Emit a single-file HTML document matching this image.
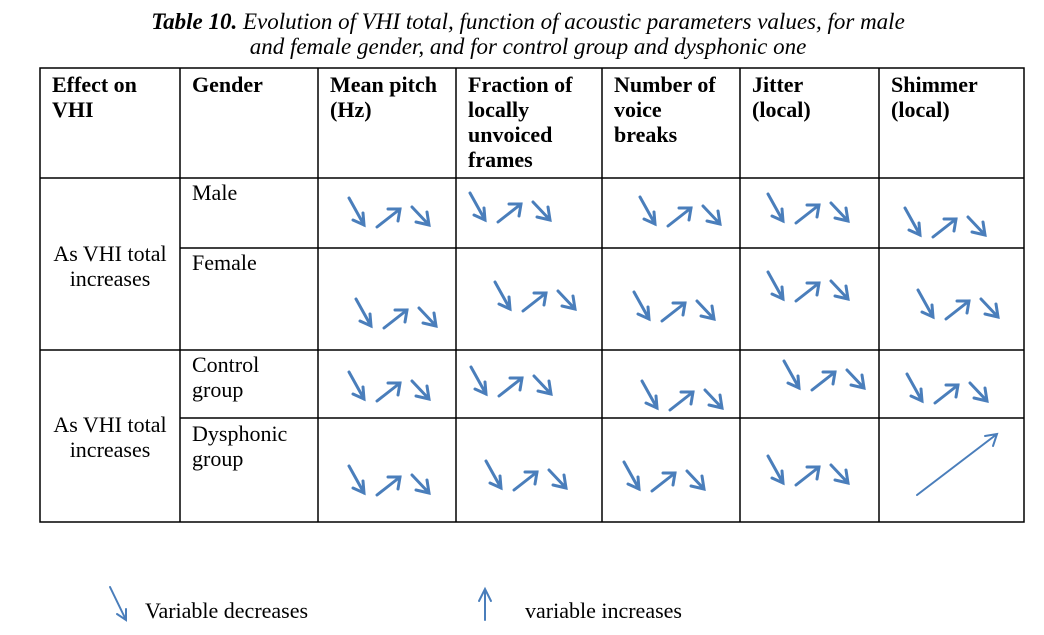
<!DOCTYPE html><html><head><style>
body{margin:0;width:1044px;height:635px;background:#fff;position:relative;overflow:hidden;font-family:"Liberation Serif",serif;color:#000}
.t{position:absolute;font-size:22px;line-height:25px;white-space:nowrap}
.b{font-weight:bold}
</style></head><body>
<div class="t" style="left:0;width:1056px;text-align:center;top:9px;font-style:italic;font-size:23px"><b>Table 10.</b> Evolution of VHI total, function of acoustic parameters values, for male<br>and female gender, and for control group and dysphonic one</div>
<div class="t b" style="left:52px;top:72px">Effect on<br>VHI</div>
<div class="t b" style="left:192px;top:72px">Gender</div>
<div class="t b" style="left:330px;top:72px">Mean pitch<br>(Hz)</div>
<div class="t b" style="left:468px;top:72px">Fraction of<br>locally<br>unvoiced<br>frames</div>
<div class="t b" style="left:614px;top:72px">Number of<br>voice<br>breaks</div>
<div class="t b" style="left:752px;top:72px">Jitter<br>(local)</div>
<div class="t b" style="left:891px;top:72px">Shimmer<br>(local)</div>
<div class="t" style="left:40px;width:140px;text-align:center;top:241px">As VHI total<br>increases</div>
<div class="t" style="left:40px;width:140px;text-align:center;top:412px">As VHI total<br>increases</div>
<div class="t" style="left:192px;top:180px">Male</div>
<div class="t" style="left:192px;top:250px">Female</div>
<div class="t" style="left:192px;top:352px">Control<br>group</div>
<div class="t" style="left:192px;top:421px">Dysphonic<br>group</div>
<div class="t" style="left:145px;top:598px">Variable decreases</div>
<div class="t" style="left:525px;top:598px">variable increases</div>
<svg width="1044" height="635" style="position:absolute;left:0;top:0">
<defs>
<g id="a" fill="none" stroke="#4a7ebb" stroke-width="3" stroke-linecap="round">
<path d="M0,0 L15,27 M14,15 L15,27 L4,22"/>
<path d="M28,29 L51,11 M39,11 L51,11 L49,23"/>
<path d="M63,9 L80,27 M78,14 L80,27 L67,24"/>
</g>
</defs>
<g stroke="#000" stroke-width="1.5" fill="none">
<rect x="40" y="68" width="984" height="454"/>
<path d="M180 68V522M318 68V522M456 68V522M602 68V522M740 68V522M879 68V522M40 178H1024M40 350H1024M180 248H1024M180 418H1024"/>
</g>
<use href="#a" x="349" y="198"/><use href="#a" x="470" y="193"/><use href="#a" x="640" y="197"/><use href="#a" x="768" y="194"/><use href="#a" x="905" y="208"/>
<use href="#a" x="356" y="299"/><use href="#a" x="495" y="282"/><use href="#a" x="634" y="292"/><use href="#a" x="768" y="272"/><use href="#a" x="918" y="290"/>
<use href="#a" x="349" y="372"/><use href="#a" x="471" y="367"/><use href="#a" x="642" y="381"/><use href="#a" x="784" y="361"/><use href="#a" x="907" y="374"/>
<use href="#a" x="349" y="466"/><use href="#a" x="486" y="461"/><use href="#a" x="624" y="462"/><use href="#a" x="768" y="456"/>
<g fill="none" stroke="#4a7ebb" stroke-width="2" stroke-linecap="round">
<path d="M917,495 L997,434 M985,436 L997,434 L993,446"/>
<path d="M110,587 L126,620 M126,609 L126,620 L117,614"/>
<path d="M485,620 L485,589 M479,601 L485,589 L491,601"/>
</g>
</svg>
</body></html>
